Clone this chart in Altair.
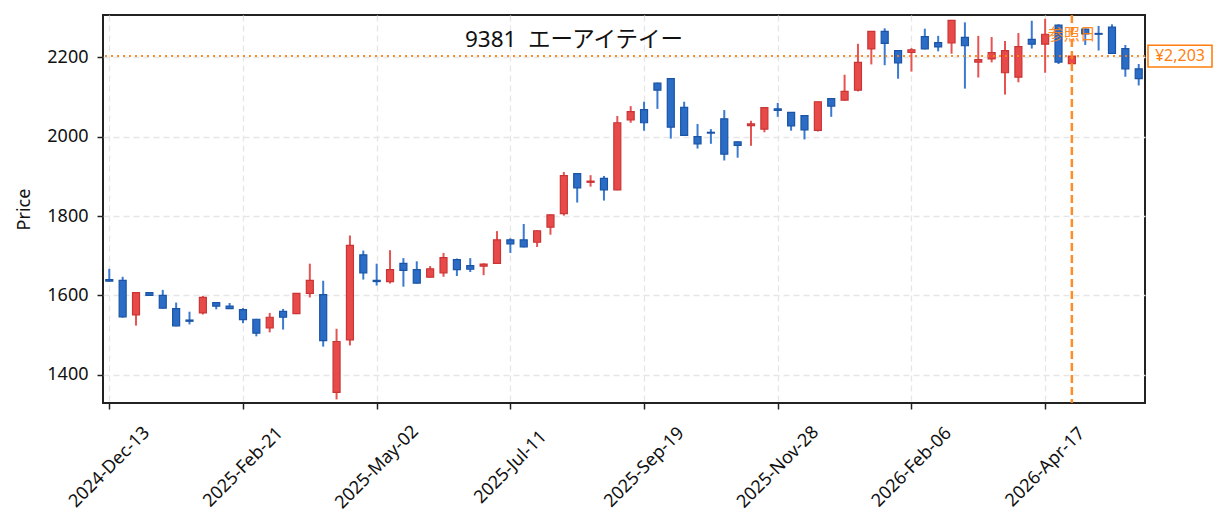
import json
import altair as alt
import pandas as pd

# ---- data (weekly candles) ----
opens  = [1640, 1638, 1551, 1607, 1600, 1567, 1538, 1556, 1582, 1573,
          1564, 1540, 1518, 1560, 1554, 1605, 1602, 1356, 1488, 1702,
          1638, 1635, 1681, 1665, 1646, 1657, 1690, 1675, 1674, 1681,
          1740, 1740, 1734, 1772, 1806, 1907, 1885, 1895, 1866, 2042,
          2068, 2135, 2146, 2074, 2000, 2011, 2045, 1987, 2028, 2019,
          2070, 2061, 2053, 2016, 2096, 2092, 2117, 2221, 2265, 2217,
          2212, 2252, 2237, 2236, 2250, 2188, 2196, 2161, 2150, 2245,
          2233, 2281, 2184, 2271, 2260, 2276, 2222, 2171]
highs  = [1667, 1647, 1608, 1608, 1614, 1582, 1559, 1599, 1583, 1581,
          1568, 1541, 1556, 1566, 1606, 1680, 1637, 1516, 1751, 1713,
          1680, 1714, 1694, 1686, 1674, 1707, 1693, 1694, 1681, 1762,
          1744, 1780, 1764, 1804, 1911, 1908, 1903, 1901, 2052, 2077,
          2088, 2136, 2147, 2088, 2032, 2019, 2067, 1988, 2040, 2074,
          2085, 2062, 2054, 2089, 2097, 2156, 2234, 2266, 2273, 2218,
          2223, 2272, 2254, 2294, 2288, 2254, 2251, 2241, 2261, 2292,
          2297, 2283, 2204, 2272, 2279, 2283, 2231, 2183]
lows   = [1635, 1544, 1524, 1599, 1567, 1522, 1527, 1552, 1565, 1566,
          1530, 1497, 1507, 1514, 1553, 1595, 1471, 1338, 1474, 1640,
          1625, 1630, 1622, 1630, 1645, 1647, 1649, 1659, 1651, 1680,
          1707, 1721, 1722, 1753, 1801, 1834, 1874, 1839, 1865, 2035,
          2015, 2070, 1995, 2002, 1970, 1982, 1940, 1947, 1977, 2011,
          2050, 2015, 1993, 2013, 2050, 2091, 2114, 2182, 2180, 2146,
          2164, 2220, 2215, 2209, 2121, 2149, 2187, 2106, 2137, 2222,
          2161, 2183, 2183, 2231, 2217, 2209, 2151, 2129]
closes = [1636, 1546, 1607, 1600, 1568, 1523, 1535, 1595, 1573, 1567,
          1539, 1505, 1545, 1545, 1605, 1638, 1486, 1484, 1726, 1657,
          1635, 1665, 1663, 1631, 1667, 1695, 1665, 1666, 1679, 1740,
          1730, 1722, 1763, 1803, 1902, 1871, 1888, 1866, 2035, 2063,
          2035, 2117, 2024, 2003, 1982, 2009, 1956, 1978, 2032, 2073,
          2066, 2027, 2017, 2088, 2077, 2114, 2187, 2265, 2235, 2186,
          2219, 2221, 2226, 2293, 2229, 2194, 2212, 2217, 2227, 2233,
          2258, 2188, 2203, 2259, 2258, 2210, 2171, 2146]

dates = pd.date_range("2024-12-13", periods=len(opens), freq="7D").strftime("%Y-%m-%d").tolist()

tick_index  = [0, 10, 20, 30, 40, 50, 60, 70]
tick_labels = ["2024-Dec-13", "2025-Feb-21", "2025-May-02", "2025-Jul-11",
               "2025-Sep-19", "2025-Nov-28", "2026-Feb-06", "2026-Apr-17"]
y_ticks = [1400, 1600, 1800, 2000, 2200]

title_text = "9381 \u00a0エーアイテイー"
ref_index = 72
ref_price = 2203
ref_label = "参照日"
price_label = "¥2,203"

FONT = "Noto Sans, Noto Sans CJK JP"
ORANGE = "#ff7f0e"

df = pd.DataFrame({
    "i": list(range(len(opens))),
    "date": dates,
    "open": opens, "high": highs, "low": lows, "close": closes,
})
df["dir"] = ["up" if c >= o else "down" for o, c in zip(opens, closes)]

W, H = 1042, 388

xscale = alt.Scale(domain=[-0.47, 77.47], nice=False, zero=False, padding=0)
yscale = alt.Scale(domain=[1329, 2306.5], nice=False, zero=False, padding=0)

xaxis = alt.Axis(
    values=tick_index, title=None,
    labelExpr=json.dumps(tick_labels) + "[round(datum.value / 10)]",
    labelAngle=315, labelAlign="center", labelBaseline="middle",
    labelPadding=58, labelFontSize=18, labelFont=FONT, labelColor="#111111",
    labelOverlap=False, labelFlush=False, labelBound=False,
    tickSize=6, tickWidth=1.5, tickColor="#222222",
    grid=True, gridDash=[6, 4], gridColor="#e6e6e6", gridWidth=1.3,
    domain=False,
)
yaxis = alt.Axis(
    values=y_ticks, title="Price", format="d",
    labelFontSize=18, labelFont=FONT, labelColor="#111111", labelPadding=9,
    tickSize=6, tickWidth=1.5, tickColor="#222222",
    grid=True, gridDash=[6, 4], gridColor="#e6e6e6", gridWidth=1.3,
    domain=False,
    titleFont=FONT, titleFontSize=18, titleFontWeight="normal", titleColor="#111111",
    titleX=-79, titleY=H / 2, titleAngle=270, titleBaseline="middle", titleAlign="center",
)

base = alt.Chart(df)

wicks = base.mark_rule(strokeWidth=2).encode(
    x=alt.X("i:Q", scale=xscale, axis=xaxis),
    y=alt.Y("low:Q", scale=yscale, axis=yaxis),
    y2="high:Q",
    color=alt.Color("dir:N", scale=alt.Scale(domain=["up", "down"], range=["#e65353", "#3a7ad0"]), legend=None),
)

bodies = base.mark_bar(size=7, strokeWidth=1.2).encode(
    x=alt.X("i:Q", scale=xscale),
    y=alt.Y("open:Q", scale=yscale),
    y2="close:Q",
    fill=alt.Fill("dir:N", scale=alt.Scale(domain=["up", "down"], range=["#e84a4a", "#2a6cc6"]), legend=None),
    stroke=alt.Stroke("dir:N", scale=alt.Scale(domain=["up", "down"], range=["#c93535", "#1b54a5"]), legend=None),
)

ref_df = pd.DataFrame({"i": [ref_index], "price": [ref_price],
                       "ref_label": [ref_label], "price_label": [price_label]})
ref_base = alt.Chart(ref_df)

hline = ref_base.mark_rule(color=ORANGE, strokeWidth=2, strokeDash=[2, 4], opacity=0.9).encode(
    y=alt.Y("price:Q", scale=yscale)
)
vline = ref_base.mark_rule(color=ORANGE, strokeWidth=2.5, strokeDash=[8, 4], opacity=0.9).encode(
    x=alt.X("i:Q", scale=xscale)
)
ref_text = ref_base.mark_text(font=FONT, fontSize=16, color=ORANGE, align="center",
                              baseline="middle", opacity=0.9).encode(
    x=alt.X("i:Q", scale=xscale), y=alt.value(20), text="ref_label:N"
)
box = ref_base.mark_point(
    shape="M-1,-0.34 L1,-0.34 L1,0.34 L-1,0.34 Z", size=64 * 64,
    filled=True, fill="white", stroke=ORANGE, strokeWidth=1.6, opacity=1,
).encode(x=alt.value(W + 35), y=alt.Y("price:Q", scale=yscale))
price_text = ref_base.mark_text(font=FONT, fontSize=16, color=ORANGE, align="center",
                                baseline="middle").encode(
    x=alt.value(W + 35), y=alt.Y("price:Q", scale=yscale), text="price_label:N"
)

title = alt.Chart(pd.DataFrame({"t": [title_text]})).mark_text(
    font=FONT, fontSize=22.5, color="#111111", align="center", baseline="middle"
).encode(x=alt.value(471), y=alt.value(25), text="t:N")

chart = alt.layer(wicks, bodies, hline, vline, ref_text, box, price_text, title).properties(
    width=W, height=H,
    autosize=alt.AutoSizeParams(type="none"),
    padding={"left": 95, "top": 7, "right": 70, "bottom": 118},
    background="white",
).configure_view(stroke="#222222", strokeWidth=2)

chart.save("out.html", embed_options={"renderer": "svg", "actions": False})
